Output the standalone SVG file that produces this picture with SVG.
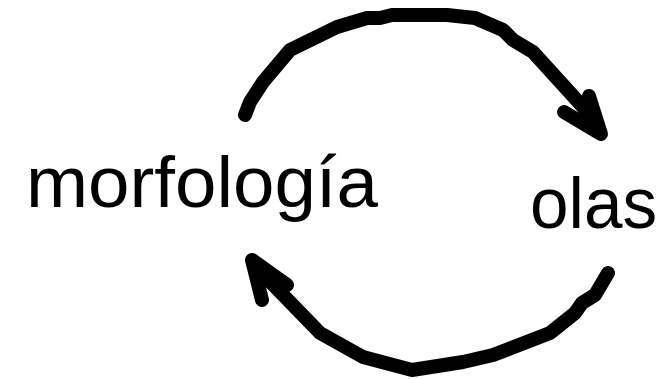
<svg xmlns="http://www.w3.org/2000/svg" width="668" height="379" viewBox="0 0 668 379">
<style>
.lbl{font-family:"Liberation Sans","DejaVu Sans",sans-serif;font-size:72px;fill:#000}
.arc{fill:none;stroke:#000;stroke-width:14;stroke-linecap:round;stroke-linejoin:round}
</style>
<rect width="668" height="379" fill="#fff"/>
<g id="node-morfologia"><text class="lbl" x="26" y="207" textLength="352" lengthAdjust="spacingAndGlyphs">morfología</text></g>
<g id="node-olas"><text class="lbl" x="530" y="228" textLength="127" lengthAdjust="spacingAndGlyphs">olas</text></g>
<g id="connectors">
<path class="arc" d="M245,115 L250,102 L263,82 L290,50 L337,27 L367,18 L380,18 L392,15 L447,15 L475,18 L503,30 L513,40 L533,52 L583,107 L600,132"/>
<path class="arc" d="M564,112 L601,134 L589,96"/>
<path class="arc" d="M608,273 L595,295 L582,303 L575,313 L550,333 L493,355 L463,362 L412,370 L363,357 L320,333 L255,266"/>
<path class="arc" d="M262,300 L252,260 L287,285"/>
</g>
</svg>
